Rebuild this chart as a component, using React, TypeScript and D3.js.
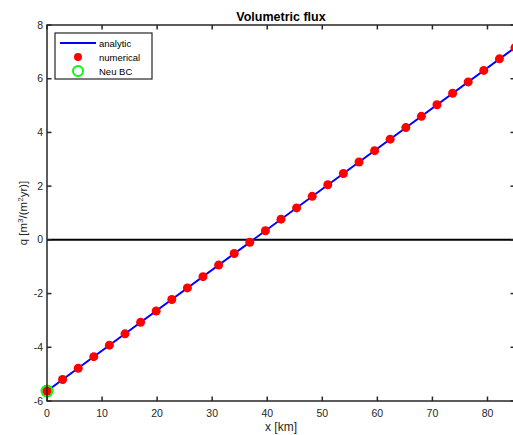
import React, { useEffect, useRef } from "react";
import * as d3 from "d3";

// positions along the domain [km]
const xs = [
  0, 2.83, 5.67, 8.5, 11.33, 14.17, 17, 19.83, 22.67, 25.5, 28.33, 31.17, 34,
  36.83, 39.67, 42.5, 45.33, 48.17, 51, 53.83, 56.67, 59.5, 62.33, 65.17, 68,
  70.83, 73.67, 76.5, 79.33, 82.17, 85,
];
// numerical flux values
const qNum = [
  -5.63, -5.2, -4.78, -4.35, -3.92, -3.5, -3.07, -2.65, -2.22, -1.79, -1.37,
  -0.94, -0.51, -0.09, 0.34, 0.77, 1.19, 1.62, 2.05, 2.47, 2.9, 3.32, 3.75,
  4.18, 4.6, 5.03, 5.46, 5.88, 6.31, 6.74, 7.16,
];
// analytic line end points
const xAna = [0, 85];
const qAna = [-5.63, 7.16];
// Neumann BC point
const bcX = [0];
const bcQ = [-5.63];

const xTicks = [0, 10, 20, 30, 40, 50, 60, 70, 80];
const yTicks = [-6, -4, -2, 0, 2, 4, 6, 8];

const App = () => {
  const ref = useRef<SVGSVGElement>(null);

  useEffect(() => {
    const svg = d3.select(ref.current);
    svg.selectAll("*").remove();

    const width = 513;
    const height = 435;
    const margin = { top: 25, right: -2, bottom: 34, left: 47 };
    const font = "'Liberation Sans', Arial, sans-serif";
    const axisColor = "#262626";

    svg.append("rect").attr("width", width).attr("height", height).attr("fill", "#fff");

    const x = d3.scaleLinear().domain([0, 85]).range([margin.left, width - margin.right]);
    const y = d3.scaleLinear().domain([-6, 8]).range([height - margin.bottom, margin.top]);

    const tick = 4.5;
    const g = svg.append("g");

    // zero line
    g.append("line")
      .attr("x1", x(0)).attr("x2", x(85))
      .attr("y1", y(0)).attr("y2", y(0))
      .attr("stroke", "#000").attr("stroke-width", 2);

    // analytic
    const line = d3.line<number>().x((d, i) => x(xAna[i])).y((d) => y(d));
    g.append("path")
      .attr("d", line(qAna))
      .attr("fill", "none")
      .attr("stroke", "#0000ff")
      .attr("stroke-width", 2);

    // Neu BC
    g.selectAll("circle.bc")
      .data(bcQ)
      .join("circle")
      .attr("class", "bc")
      .attr("cx", (d, i) => x(bcX[i]))
      .attr("cy", (d) => y(d))
      .attr("r", 5.5)
      .attr("fill", "none")
      .attr("stroke", "#00ff00")
      .attr("stroke-width", 2);

    // numerical
    g.selectAll("circle.num")
      .data(qNum)
      .join("circle")
      .attr("class", "num")
      .attr("cx", (d, i) => x(xs[i]))
      .attr("cy", (d) => y(d))
      .attr("r", 4.5)
      .attr("fill", "#ff0000");

    // axes box
    const ax = svg.append("g").attr("stroke", axisColor).attr("stroke-width", 1.5);
    ax.append("rect")
      .attr("x", x(0)).attr("y", y(8))
      .attr("width", x(85) - x(0)).attr("height", y(-6) - y(8))
      .attr("fill", "none");

    xTicks.forEach((t) => {
      ax.append("line").attr("x1", x(t)).attr("x2", x(t)).attr("y1", y(-6)).attr("y2", y(-6) - tick);
      ax.append("line").attr("x1", x(t)).attr("x2", x(t)).attr("y1", y(8)).attr("y2", y(8) + tick);
    });
    yTicks.forEach((t) => {
      ax.append("line").attr("x1", x(0)).attr("x2", x(0) + tick).attr("y1", y(t)).attr("y2", y(t));
      ax.append("line").attr("x1", x(85)).attr("x2", x(85) - tick).attr("y1", y(t)).attr("y2", y(t));
    });

    const labels = svg.append("g").style("font-family", font).style("font-size", "10.5px").attr("fill", axisColor);
    xTicks.forEach((t) => {
      labels.append("text").attr("x", x(t)).attr("y", y(-6) + 16).attr("text-anchor", "middle").text(t);
    });
    yTicks.forEach((t) => {
      labels.append("text").attr("x", x(0) - 4).attr("y", y(t) + 3.5).attr("text-anchor", "end").text(t);
    });

    const cx = (x(0) + x(85)) / 2;
    labels.append("text")
      .attr("x", cx).attr("y", y(-6) + 30)
      .attr("text-anchor", "middle")
      .style("font-size", "12px")
      .text("x [km]");

    const yl = labels.append("text")
      .attr("transform", `translate(27,${(y(-6) + y(8)) / 2}) rotate(-90)`)
      .attr("text-anchor", "middle")
      .style("font-size", "11.5px");
    yl.append("tspan").text("q [m");
    yl.append("tspan").attr("dy", -4).style("font-size", "8px").text("3");
    yl.append("tspan").attr("dy", 4).text("/(m");
    yl.append("tspan").attr("dy", -4).style("font-size", "8px").text("2");
    yl.append("tspan").attr("dy", 4).text("yr)]");

    svg.append("text")
      .attr("x", cx).attr("y", 21)
      .attr("text-anchor", "middle")
      .style("font-family", font)
      .style("font-size", "12.5px")
      .style("font-weight", "bold")
      .attr("fill", "#000")
      .text("Volumetric flux");

    // legend
    const lg = svg.append("g").attr("transform", "translate(55,33)");
    lg.append("rect").attr("width", 97).attr("height", 46).attr("fill", "#fff")
      .attr("stroke", axisColor).attr("stroke-width", 1.2);
    const items = ["analytic", "numerical", "Neu BC"];
    items.forEach((name, i) => {
      const yy = 10 + i * 14;
      if (i === 0) {
        lg.append("line").attr("x1", 5).attr("x2", 41).attr("y1", yy).attr("y2", yy)
          .attr("stroke", "#0000ff").attr("stroke-width", 2);
      } else if (i === 1) {
        lg.append("circle").attr("cx", 23).attr("cy", yy).attr("r", 4).attr("fill", "#ff0000");
      } else {
        lg.append("circle").attr("cx", 23).attr("cy", yy).attr("r", 5).attr("fill", "none")
          .attr("stroke", "#00ff00").attr("stroke-width", 2);
      }
      lg.append("text").attr("x", 44).attr("y", yy + 3.5)
        .style("font-family", font).style("font-size", "9.5px").attr("fill", "#000").text(name);
    });
  }, []);

  return (
    <svg
      ref={ref}
      width={513}
      height={435}
      style={{ position: "absolute", left: 0, top: 0, display: "block" }}
    />
  );
};

export default App;
